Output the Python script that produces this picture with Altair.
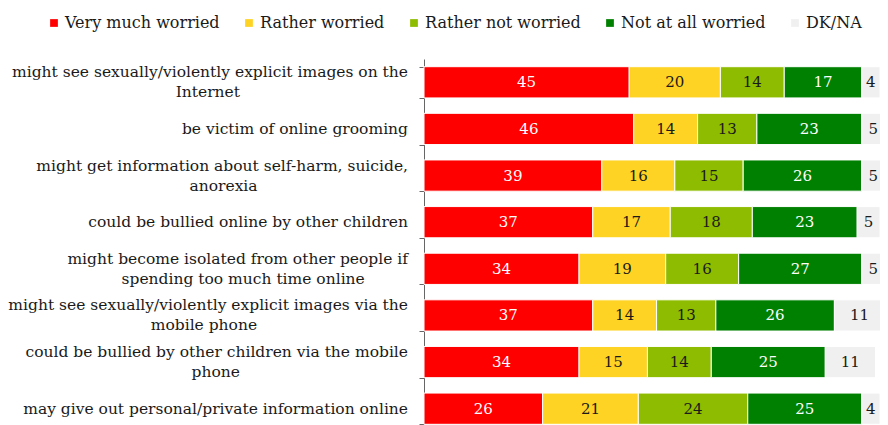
import altair as alt
import pandas as pd

categories = [
    "might see sexually/violently explicit images on the|Internet",
    "be victim of online grooming",
    "might get information about self-harm, suicide,|anorexia",
    "could be bullied online by other children",
    "might become isolated from other people if|spending too much time online",
    "might see sexually/violently explicit images via the|mobile phone",
    "could be bullied by other children via the mobile|phone",
    "may give out personal/private information online",
]
series = ["Very much worried", "Rather worried", "Rather not worried", "Not at all worried", "DK/NA"]
colors = ["#FF0000", "#FED324", "#8EBC00", "#008000", "#F0F0F0"]
label_colors = ["#FFFFFF", "#1A1A1A", "#1A1A1A", "#FFFFFF", "#1A1A1A"]

very_much = [45, 46, 39, 37, 34, 37, 34, 26]
rather = [20, 14, 16, 17, 19, 14, 15, 21]
rather_not = [14, 13, 15, 18, 16, 13, 14, 24]
not_at_all = [17, 23, 26, 23, 27, 26, 25, 25]
dkna = [4, 5, 5, 5, 5, 11, 11, 4]

values = [very_much, rather, rather_not, not_at_all, dkna]
rows = []
for si, s in enumerate(series):
    for ci, c in enumerate(categories):
        rows.append({"cat": c, "series": s, "order": si, "value": values[si][ci]})
df = pd.DataFrame(rows)

FONT = "DejaVu Serif"
CHAR_W = 7.85  # approx. average glyph width of the label font, to centre 2nd lines

base = alt.Chart(df).transform_stack(
    stack="value", groupby=["cat"], as_=["x0", "x1"], sort=[alt.SortField("order")]
).transform_calculate(mid="(datum.x0 + datum.x1) / 2")

y_scale = alt.Scale(paddingInner=0.33, paddingOuter=0.165)

y_enc = alt.Y(
    "cat:N",
    sort=categories,
    title=None,
    scale=y_scale,
    axis=alt.Axis(
        labels=False,
        tickBand="extent",
        tickSize=5,
        tickColor="#666666",
        domainColor="#666666",
        grid=False,
    ),
)

bars = base.mark_bar(stroke="white", strokeWidth=1).encode(
    x=alt.X("x0:Q", scale=alt.Scale(domain=[0, 100], nice=False), axis=None),
    x2="x1:Q",
    y=y_enc,
    color=alt.Color(
        "series:N",
        sort=series,
        scale=alt.Scale(domain=series, range=colors),
        legend=alt.Legend(
            title=None,
            orient="none",
            direction="horizontal",
            legendX=-378,
            legendY=-44,
            symbolType="square",
            symbolSize=60,
            symbolStrokeWidth=0,
            labelFont=FONT,
            labelFontSize=16,
            labelColor="#1A1A1A",
            labelOffset=3,
            columnPadding=21,
        ),
    ),
)

text = base.mark_text(font=FONT, fontSize=15).encode(
    x=alt.X("mid:Q"),
    y=alt.Y("cat:N", sort=categories),
    text="value:Q",
    color=alt.Color("series:N", scale=alt.Scale(domain=series, range=label_colors), legend=None),
)

label_props = dict(font=FONT, fontSize=15.5, color="#1A1A1A", baseline="middle")

lab_base = alt.Chart(df).transform_filter("datum.order == 0").transform_calculate(
    line1="split(datum.cat, '|')[0]",
    line2="length(split(datum.cat, '|')) > 1 ? split(datum.cat, '|')[1] : ''",
    lx2=f"-16 - length(split(datum.cat, '|')[0]) * {CHAR_W} / 2",
)

one_line = (
    lab_base.transform_filter("datum.line2 == ''")
    .mark_text(align="right", **label_props)
    .encode(x=alt.value(-16), y=alt.Y("cat:N", sort=categories), text="line1:N")
)
first_line = (
    lab_base.transform_filter("datum.line2 != ''")
    .mark_text(align="right", dy=-10, **label_props)
    .encode(x=alt.value(-16), y=alt.Y("cat:N", sort=categories), text="line1:N")
)
second_line = (
    lab_base.transform_filter("datum.line2 != ''")
    .mark_text(align="center", dy=10, **label_props)
    .encode(x=alt.X("lx2:Q", scale=None), y=alt.Y("cat:N", sort=categories), text="line2:N")
)

chart = (
    alt.layer(bars, text, one_line, first_line, second_line)
    .resolve_scale(color="independent")
    .properties(
        width=456,
        height=373,
        autosize=alt.AutoSizeParams(type="none"),
        padding={"left": 416, "top": 51, "right": 0, "bottom": 0},
    )
    .configure_view(stroke=None)
)

chart.save("out.html", embed_options={"renderer": "svg", "actions": False})
